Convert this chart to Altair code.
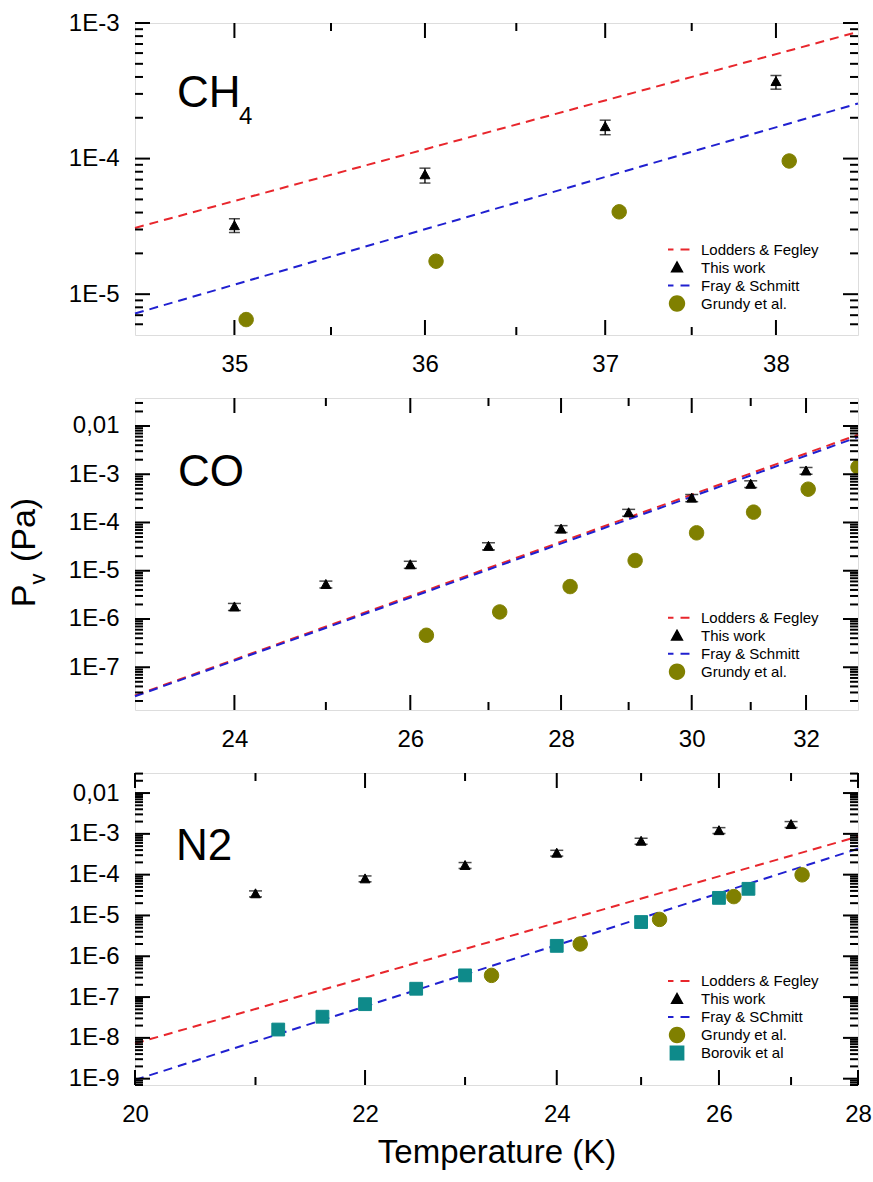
import math
import altair as alt
import pandas as pd

FONT = "Liberation Sans"
W, H = 723, 312

# ---------------- data ----------------
# CH4 panel
ch4_this_T = [35, 36, 37, 38]
ch4_this_P = [3.2e-5, 7.6e-5, 1.72e-4, 3.7e-4]
ch4_this_lo = [2.85e-5, 6.6e-5, 1.5e-4, 3.25e-4]
ch4_this_hi = [3.6e-5, 8.5e-5, 1.92e-4, 4.1e-4]
ch4_grundy_T = [35.06, 36.06, 37.08, 38.08]
ch4_grundy_P = [6.5e-6, 1.75e-5, 4.05e-5, 9.6e-5]
ch4_lodders_T = [34.5, 38.5]
ch4_lodders_P = [3.08e-5, 8.6e-4]
ch4_fray_T = [34.5, 38.5]
ch4_fray_P = [7.2e-6, 2.55e-4]

# CO panel
co_this_T = [24, 25, 26, 27, 28, 29, 30, 31, 32]
co_this_P = [1.78e-6, 5.2e-6, 1.33e-5, 3.2e-5, 7.3e-5, 1.59e-4, 3.2e-4, 6.2e-4, 1.17e-3]
co_this_lo = [1.5e-6, 4.4e-6, 1.12e-5, 2.7e-5, 6.2e-5, 1.35e-4, 2.7e-4, 5.3e-4, 1.0e-3]
co_this_hi = [2.1e-6, 6.1e-6, 1.57e-5, 3.8e-5, 8.6e-5, 1.87e-4, 3.8e-4, 7.3e-4, 1.38e-3]
co_grundy_T = [26.2, 27.15, 28.13, 29.1, 30.08, 31.05, 32.04, 33.0]
co_grundy_P = [4.6e-7, 1.4e-6, 4.7e-6, 1.63e-5, 6.1e-5, 1.64e-4, 4.9e-4, 1.4e-3]
co_lodders_T = [23, 33]
co_lodders_P = [2.6e-8, 6.6e-3]
co_fray_T = [23, 33]
co_fray_P = [2.5e-8, 5.9e-3]

# N2 panel
n2_this_T = [21, 22, 23, 24, 25, 26, 27]
n2_this_P = [3.4e-5, 7.9e-5, 1.68e-4, 3.36e-4, 6.6e-4, 1.2e-3, 1.69e-3]
n2_this_lo = [2.85e-5, 6.7e-5, 1.42e-4, 2.85e-4, 5.6e-4, 1.02e-3, 1.43e-3]
n2_this_hi = [4.0e-5, 9.3e-5, 1.98e-4, 3.95e-4, 7.8e-4, 1.42e-3, 2.0e-3]
n2_grundy_T = [23.28, 24.27, 25.23, 26.2, 27.16]
n2_grundy_P = [3.4e-7, 2.0e-6, 8.0e-6, 2.9e-5, 9.9e-5]
n2_borovik_T = [21.2, 21.6, 22.0, 22.5, 23.0, 24.0, 25.0, 26.0, 26.4]
n2_borovik_P = [1.6e-8, 3.3e-8, 6.7e-8, 1.6e-7, 3.4e-7, 1.8e-6, 6.9e-6, 2.7e-5, 4.5e-5]
n2_lodders_T = [20, 28]
n2_lodders_P = [7.3e-9, 8.6e-4]
n2_fray_T = [20, 28]
n2_fray_P = [9.3e-10, 4.3e-4]

# axes
ch4_xdom, ch4_xmaj, ch4_xmin = [34.5, 38.5], [35, 36, 37, 38], [35.5, 36.5, 37.5]
co_xdom, co_xmaj, co_xmin = [23, 33], [24, 26, 28, 30, 32], [25, 27, 29, 31]
n2_xdom, n2_xmaj, n2_xmin = [20, 28], [20, 22, 24, 26, 28], [21, 23, 25, 27]
ch4_ydom, ch4_ymaj = [5e-6, 1e-3], [1e-5, 1e-4, 1e-3]
co_ydom, co_ymaj = [1.3e-8, 0.038], [1e-7, 1e-6, 1e-5, 1e-4, 1e-3, 1e-2]
n2_ydom, n2_ymaj = [7e-10, 0.031], [1e-9, 1e-8, 1e-7, 1e-6, 1e-5, 1e-4, 1e-3, 1e-2]


def minor_log(lo, hi):
    out = []
    e = -12
    while e < 0:
        for m in range(2, 10):
            v = m * 10.0 ** e
            if lo < v < hi:
                out.append(v)
        e += 1
    return out


# legend names / styles
LOD, THIS, FRAY, GRU, BOR = "Lodders & Fegley", "This work", "Fray & Schmitt", "Grundy et al.", "Borovik et al"
RED, BLUE, BLACK, OLIVE, TEAL = "#e8262c", "#2020d0", "#000000", "#808000", "#0e8a8a"
DASH = "M-1.56,0H-0.44M0.44,0H1.56"
TRI = "M0,-0.62L0.62,0.5L-0.62,0.5Z"
CIRC = "M" + "L".join(
    "%.3f,%.3f" % (0.9 * math.cos(2 * math.pi * k / 28), 0.9 * math.sin(2 * math.pi * k / 28))
    for k in range(28)
) + "Z"
SQ = "M-0.8,-0.8H0.8V0.8H-0.8Z"


def panel(lines, points, errs, xdom, xmaj, xmin, ydom, ymaj, series, colors, shapes,
          names, legend_y, texts, cap=11, xtitle=None):
    xs = alt.Scale(type="pow", exponent=-1, domain=xdom, zero=False, nice=False)
    ys = alt.Scale(type="log", domain=ydom, nice=False)
    cs = alt.Scale(domain=series, range=colors)
    ss = alt.Scale(domain=series, range=shapes)
    leg = alt.Legend(orient="none", legendX=533, legendY=legend_y, title=None,
                     labelFont=FONT, labelFontSize=15, labelColor="black",
                     symbolSize=256, symbolStrokeWidth=2, symbolOpacity=1,
                     labelOffset=15, rowPadding=0, padding=0, clipHeight=18,
                     labelExpr=names)
    xaxis_kw = dict(values=xmaj, ticks=False, tickSize=0, domain=False, grid=False,
                    labelFont=FONT, labelFontSize=24, labelPadding=17,
                    labelFlush=False, labelOverlap=False, labelColor="black")
    if xtitle:
        xaxis = alt.Axis(titleFont=FONT, titleFontSize=33,
                         titleFontWeight="normal", titleColor="black",
                         titlePadding=10, **xaxis_kw)
    else:
        xaxis = alt.Axis(**xaxis_kw)
    yaxis = alt.Axis(values=ymaj, ticks=False, tickSize=0, domain=False, grid=False,
                     labelFont=FONT, labelFontSize=24, labelPadding=16,
                     labelFlush=False, labelOverlap=False, labelColor="black",
                     labelExpr="datum.value > 0.005 ? '0,01' : '1E-' + format(-log(datum.value)/LN10, '.0f')")

    def X(field):
        return alt.X(field, scale=xs, axis=xaxis, title=xtitle)

    def Y(field):
        return alt.Y(field, scale=ys, axis=yaxis, title=None)

    line_layer = alt.Chart(lines).mark_line(strokeDash=[9, 6], strokeWidth=2).encode(
        x=X("T:Q"), y=Y("P:Q"),
        stroke=alt.Stroke("series:N", scale=cs, legend=leg),
        order="T:Q",
    )
    err_rule = alt.Chart(errs).mark_rule(color="black", strokeWidth=1.3).encode(
        x=X("T:Q"), y=Y("lo:Q"), y2="hi:Q",
    )
    cap_lo = alt.Chart(errs).mark_tick(color="black", orient="horizontal", size=cap, thickness=1.5).encode(
        x=X("T:Q"), y=Y("lo:Q"),
    )
    cap_hi = alt.Chart(errs).mark_tick(color="black", orient="horizontal", size=cap, thickness=1.5).encode(
        x=X("T:Q"), y=Y("hi:Q"),
    )
    pts = alt.Chart(points).mark_point(filled=True, size=256, opacity=1, strokeWidth=1, clip=True).encode(
        x=X("T:Q"), y=Y("P:Q"),
        fill=alt.Fill("series:N", scale=cs, legend=leg),
        stroke=alt.Stroke("series:N", scale=cs, legend=leg),
        shape=alt.Shape("series:N", scale=ss, legend=leg),
    )
    layers = [line_layer, err_rule, cap_lo, cap_hi, pts]
    # inward ticks on all four sides
    for vals, L in ((xmaj, 15), (xmin, 8)):
        base = alt.Chart(pd.DataFrame({"t": vals})).mark_rule(color="black", strokeWidth=2)
        layers.append(base.encode(x=X("t:Q"), y=alt.value(H), y2=alt.value(H - L)))
        layers.append(base.encode(x=X("t:Q"), y=alt.value(0), y2=alt.value(L)))
    for vals, L in ((ymaj, 15), (minor_log(*ydom), 8)):
        base = alt.Chart(pd.DataFrame({"v": vals})).mark_rule(color="black", strokeWidth=2)
        layers.append(base.encode(y=Y("v:Q"), x=alt.value(0), x2=alt.value(L)))
        layers.append(base.encode(y=Y("v:Q"), x=alt.value(W), x2=alt.value(W - L)))
    for t in texts:
        layers.append(
            alt.Chart(pd.DataFrame({"s": [t["text"]]})).mark_text(
                font=FONT, fontSize=t["size"], align=t.get("align", "left"),
                baseline="alphabetic", angle=t.get("angle", 0), color="black",
            ).encode(text="s:N", x=alt.value(t["x"]), y=alt.value(t["y"]))
        )
    return alt.layer(*layers).properties(width=W, height=H)


def mk_lines(a_T, a_P, b_T, b_P):
    return pd.DataFrame({
        "T": a_T + b_T, "P": a_P + b_P,
        "series": [LOD] * len(a_T) + [FRAY] * len(b_T),
    })


def mk_points(groups):
    T, P, S = [], [], []
    for name, tt, pp in groups:
        T += tt; P += pp; S += [name] * len(tt)
    return pd.DataFrame({"T": T, "P": P, "series": S})


p1 = panel(
    mk_lines(ch4_lodders_T, ch4_lodders_P, ch4_fray_T, ch4_fray_P),
    mk_points([(THIS, ch4_this_T, ch4_this_P), (GRU, ch4_grundy_T, ch4_grundy_P)]),
    pd.DataFrame({"T": ch4_this_T, "lo": ch4_this_lo, "hi": ch4_this_hi}),
    ch4_xdom, ch4_xmaj, ch4_xmin, ch4_ydom, ch4_ymaj,
    [LOD, THIS, FRAY, GRU], [RED, BLACK, BLUE, OLIVE], [DASH, TRI, DASH, CIRC],
    "datum.label", 217.5,
    [dict(text="CH", size=44, x=42, y=83.5), dict(text="4", size=24, x=104, y=100.5)],
)
p2 = panel(
    mk_lines(co_lodders_T, co_lodders_P, co_fray_T, co_fray_P),
    mk_points([(THIS, co_this_T, co_this_P), (GRU, co_grundy_T, co_grundy_P)]),
    pd.DataFrame({"T": co_this_T, "lo": co_this_lo, "hi": co_this_hi}),
    co_xdom, co_xmaj, co_xmin, co_ydom, co_ymaj,
    [LOD, THIS, FRAY, GRU], [RED, BLACK, BLUE, OLIVE], [DASH, TRI, DASH, CIRC],
    "datum.label", 210.7,
    [dict(text="CO", size=44, x=43, y=88),
     dict(text="P", size=34, x=-100, y=198, angle=270, align="center"),
     dict(text="v", size=22, x=-90, y=181, angle=270, align="center"),
     dict(text="(Pa)", size=34, x=-100, y=132, angle=270, align="center")],
    cap=13,
)
p3 = panel(
    mk_lines(n2_lodders_T, n2_lodders_P, n2_fray_T, n2_fray_P),
    mk_points([(THIS, n2_this_T, n2_this_P), (GRU, n2_grundy_T, n2_grundy_P),
               (BOR, n2_borovik_T, n2_borovik_P)]),
    pd.DataFrame({"T": n2_this_T, "lo": n2_this_lo, "hi": n2_this_hi}),
    n2_xdom, n2_xmaj, n2_xmin, n2_ydom, n2_ymaj,
    [LOD, THIS, FRAY, GRU, BOR], [RED, BLACK, BLUE, OLIVE, TEAL], [DASH, TRI, DASH, CIRC, SQ],
    "datum.label == 'Fray & Schmitt' ? 'Fray & SChmitt' : datum.label", 199,
    [dict(text="N2", size=44, x=41, y=87)],
    cap=13,
    xtitle="Temperature (K)",
)

chart = alt.vconcat(p1, p2, p3, spacing=63, bounds="flush").resolve_scale(
    x="independent", y="independent", fill="independent", stroke="independent", shape="independent"
).resolve_legend(fill="independent", stroke="independent", shape="independent").properties(
    padding={"left": 7, "top": 10, "right": 0, "bottom": 0}
).configure_view(stroke="black", strokeWidth=2.5).configure(font=FONT)

chart.save("out.html", embed_options={"renderer": "svg", "actions": False})
